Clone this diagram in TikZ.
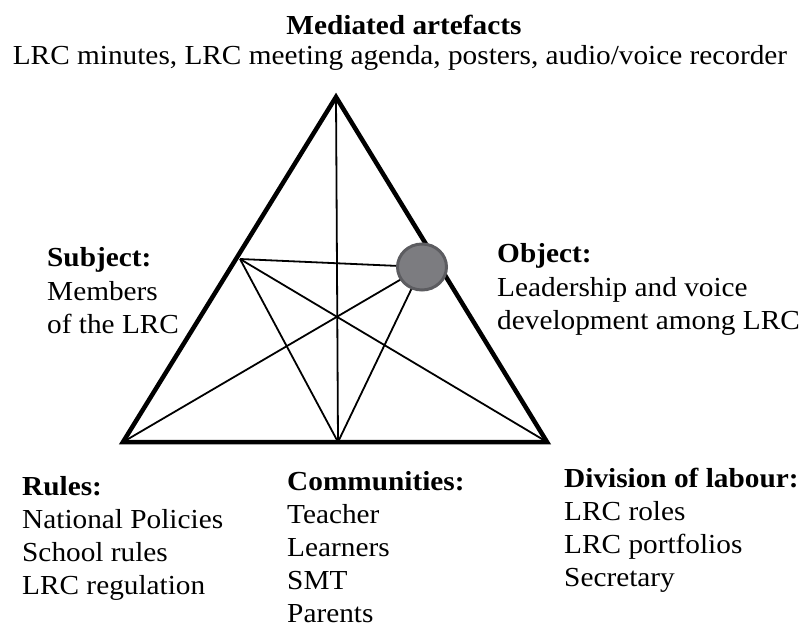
\documentclass[tikz,border=0pt]{standalone}
\usepackage{fontspec}
\setmainfont{Liberation Serif}

\definecolor{dotfill}{RGB}{124,124,128}
\definecolor{dotrim}{RGB}{92,92,96}

% left aligned lines, hung from the baseline of the first one
\newcommand{\textlines}[1]{{\let\\\cr\vtop{\halign{##\hfil\cr#1\crcr}}}}

\begin{document}
\begin{tikzpicture}[x=1pt, y=-1pt,
      every node/.append style={inner sep=0pt, xscale=1.065,
        font=\fontsize{27.5}{33.2}\selectfont}]
    \tikzstyle{edge} = [line width=4.5pt, line join=miter]
    \tikzstyle{link} = [line width=1.8pt]
    \tikzstyle{block} = [anchor=base west]
    \useasboundingbox (0,0) rectangle (803,628);
    % corners and joints of the triangle
    \coordinate (top) at (336,97);
    \coordinate (left) at (123,442);
    \coordinate (right) at (547,442);
    \coordinate (mid) at (338,442);
    \coordinate (subj) at (240,259);
    \coordinate (obj) at (422,267);
    \draw[edge] (top) -- (right) -- (left) -- cycle;
    \draw[link] (top) -- (mid);
    \draw[link] (subj) -- (obj);
    \draw[link] (subj) -- (mid);
    \draw[link] (subj) -- (right);
    \draw[link] (obj) -- (left);
    \draw[link] (obj) -- (mid);
    \node (dot) [circle, xscale=1, minimum size=46pt, fill=dotfill, draw=dotrim, line width=3pt] at (obj) {};
    % texts round the triangle
    \node (artefacts) [anchor=base] at (404,35) {\textbf{Mediated artefacts}};
    \node (tools) [anchor=base] at (400,65) {LRC minutes, LRC meeting agenda, posters, audio/voice recorder};
    \node (subject) [block] at (47,267) {\textlines{\textbf{Subject:}\\Members\\of the LRC}};
    \node (object) [block] at (497,263) {\textlines{\textbf{Object:}\\Leadership and voice\\development among LRC}};
    \node (rules) [block] at (22,495) {\textlines{\textbf{Rules:}\\National Policies\\School rules\\LRC regulation}};
    \node (community) [block] at (287,490) {\textlines{\textbf{Communities:}\\Teacher\\Learners\\SMT\\Parents}};
    \node (division) [block] at (564,487) {\textlines{\textbf{Division of labour:}\\LRC roles\\LRC portfolios\\Secretary}};
\end{tikzpicture}
\end{document}
